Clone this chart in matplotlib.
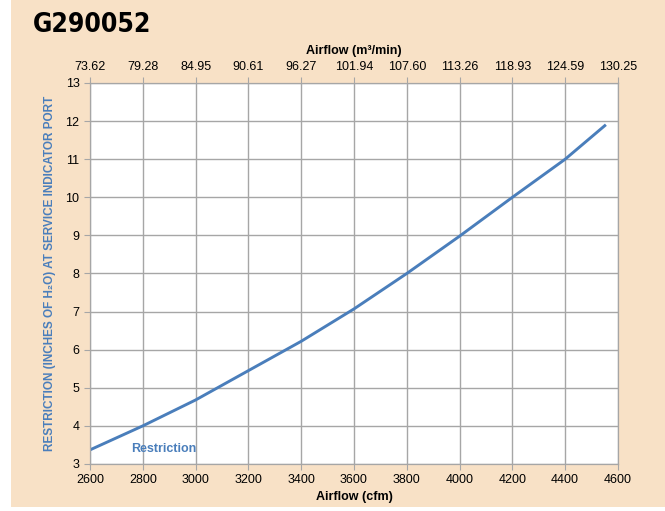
import matplotlib
matplotlib.use('Agg')
import matplotlib.pyplot as plt
from matplotlib.patches import Rectangle

plt.rcParams['font.family'] = ['Liberation Sans', 'DejaVu Sans']

# airflow (cfm) and restriction (in H2O)
cfm = [2600, 2800, 3000, 3200, 3400, 3600, 3800, 4000, 4200, 4400, 4550]
restriction = [3.37, 4.0, 4.68, 5.45, 6.22, 7.07, 8.0, 8.98, 10.0, 11.0, 11.88]

x_ticks = [2600, 2800, 3000, 3200, 3400, 3600, 3800, 4000, 4200, 4400, 4600]
top_labels = ['73.62', '79.28', '84.95', '90.61', '96.27', '101.94', '107.60',
              '113.26', '118.93', '124.59', '130.25']
y_ticks = [3, 4, 5, 6, 7, 8, 9, 10, 11, 12, 13]

BLUE = '#4A7EBB'
BEIGE = '#F8E1C6'
GRID = '#A6A6A6'

W, H = 665, 511
fig = plt.figure(figsize=(W / 100, H / 100), dpi=100)
fig.patches.append(Rectangle((11 / W, 0.008), 1, 1, transform=fig.transFigure,
                             facecolor=BEIGE, edgecolor='none', zorder=-10))

ax = fig.add_axes([0.1353, 0.092, 0.794, 0.7456])
ax.set_facecolor('white')
ax.plot(cfm, restriction, color=BLUE, lw=2.1)
ax.set_xlim(2600, 4600)
ax.set_ylim(3, 13)
ax.set_xticks(x_ticks)
ax.set_yticks(y_ticks)
ax.grid(True, color=GRID, lw=1)
ax.set_axisbelow(True)
for s in ax.spines.values():
    s.set_color(GRID)
ax.tick_params(colors=GRID, labelcolor='black', labelsize=9, length=4)
ax.set_xlabel('Airflow (cfm)', fontsize=9, fontweight='bold', labelpad=3)
ax.set_ylabel('RESTRICTION (INCHES OF H₂O) AT SERVICE INDICATOR PORT',
              fontsize=8.5, fontweight='bold', color=BLUE, labelpad=7)

top = ax.twiny()
top.set_xlim(ax.get_xlim())
top.set_xticks(x_ticks)
top.set_xticklabels(top_labels)
top.tick_params(colors=GRID, labelcolor='black', labelsize=9, length=4)
top.set_xlabel('Airflow (m³/min)', fontsize=9, fontweight='bold', labelpad=5)
for s in top.spines.values():
    s.set_color(GRID)

ax.text(2755, 3.39, 'Restriction', color=BLUE, fontsize=9, fontweight='bold', va='center')

# condensed heavy title
fig.text(33 / W, 1 - 25 / H, 'G290052', fontsize=19, fontweight='bold',
         family='DejaVu Sans', stretch='condensed', va='center')

fig.savefig('out.png', dpi=100)
